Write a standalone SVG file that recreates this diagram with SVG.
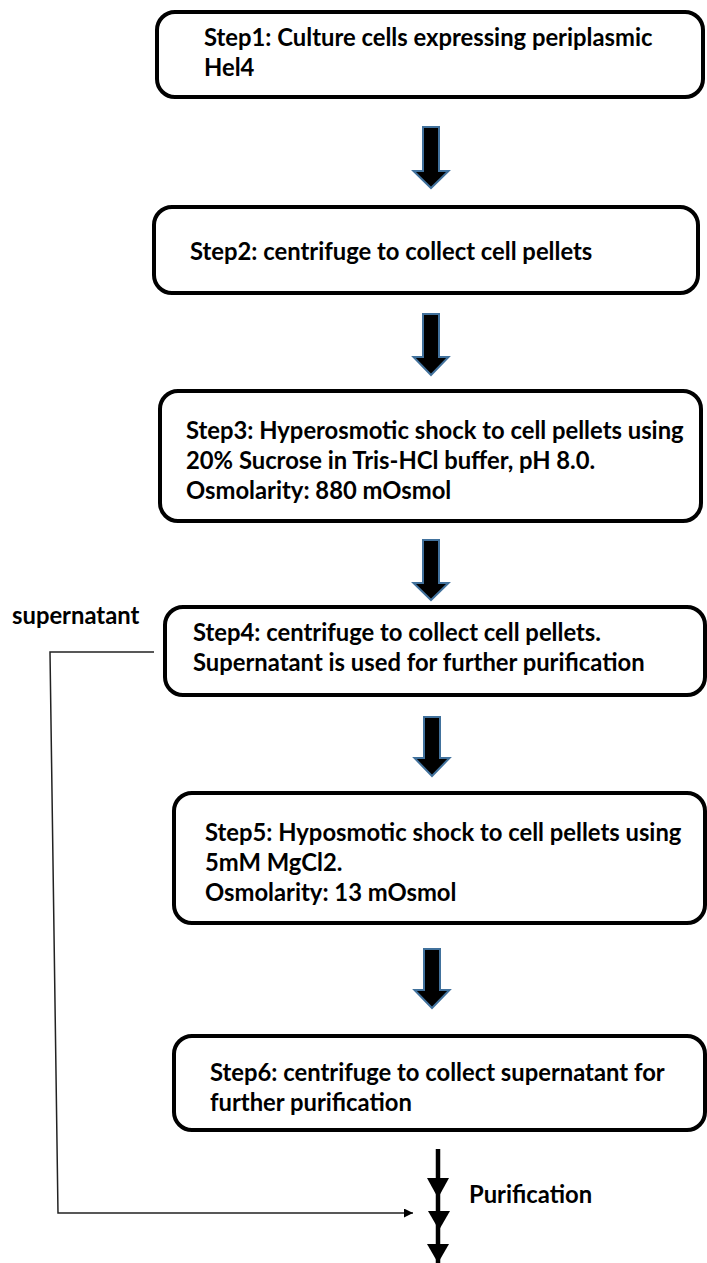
<svg xmlns="http://www.w3.org/2000/svg" width="707" height="1263" viewBox="0 0 707 1263">
  <style>
    .box { fill: #ffffff; stroke: #000000; stroke-width: 4; }
    .lbl { font-family: Lato, "Liberation Sans", sans-serif; font-weight: bold; font-size: 23.8px; fill: #000000; }
    .block { fill: #000000; stroke: #41719C; stroke-width: 2; stroke-linejoin: miter; }
    .thin { fill: none; stroke: #222222; stroke-width: 1.5; }
    .thick { fill: none; stroke: #000000; stroke-width: 4.5; }
    .head { fill: #000000; }
  </style>
  <defs>
    <marker id="tri" viewBox="0 0 10 10" refX="10" refY="5" markerWidth="9" markerHeight="9" markerUnits="userSpaceOnUse" orient="auto">
      <path d="M0,0 L10,5 L0,10 Z" fill="#000000"/>
    </marker>
  </defs>
  <rect width="707" height="1263" fill="#ffffff"/>

  <g id="step1">
    <rect class="box" x="157" y="12" width="546" height="85" rx="18"/>
    <text class="lbl" x="204" y="46">Step1: Culture cells expressing periplasmic</text>
    <text class="lbl" x="204" y="76">Hel4</text>
  </g>

  <g id="step2">
    <rect class="box" x="154" y="207" width="544" height="86" rx="18"/>
    <text class="lbl" x="190" y="260">Step2: centrifuge to collect cell pellets</text>
  </g>

  <g id="step3">
    <rect class="box" x="160" y="391" width="541" height="130" rx="18"/>
    <text class="lbl" x="186" y="439">Step3: Hyperosmotic shock to cell pellets using</text>
    <text class="lbl" x="186" y="469">20% Sucrose in Tris-HCl buffer, pH 8.0.</text>
    <text class="lbl" x="186" y="499">Osmolarity: 880 mOsmol</text>
  </g>

  <g id="step4">
    <rect class="box" x="165" y="607" width="540" height="88" rx="18"/>
    <text class="lbl" x="193" y="641">Step4: centrifuge to collect cell pellets.</text>
    <text class="lbl" x="193" y="671">Supernatant is used for further purification</text>
  </g>

  <g id="step5">
    <rect class="box" x="174" y="793" width="531" height="130" rx="18"/>
    <text class="lbl" x="205" y="841">Step5: Hyposmotic shock to cell pellets using</text>
    <text class="lbl" x="205" y="871">5mM MgCl2.</text>
    <text class="lbl" x="205" y="901">Osmolarity: 13 mOsmol</text>
  </g>

  <g id="step6">
    <rect class="box" x="174" y="1036" width="531" height="94" rx="18"/>
    <text class="lbl" x="210" y="1081">Step6: centrifuge to collect supernatant for</text>
    <text class="lbl" x="210" y="1111">further purification</text>
  </g>

  <g id="supernatant-label">
    <text class="lbl" x="12" y="624">supernatant</text>
  </g>

  <g id="purification-label">
    <text class="lbl" x="469" y="1203">Purification</text>
  </g>

  <g id="connectors">
    <!-- block arrows between steps -->
    <path class="block" d="M423,127 H439 V171 H448.5 L431,188 L413.5,171 H423 Z"/>
    <path class="block" d="M423,314 H439 V357 H448.5 L431,375 L413.5,357 H423 Z"/>
    <path class="block" d="M423,540 H439 V583 H448.5 L431,600 L413.5,583 H423 Z"/>
    <path class="block" d="M424,717 H440 V758 H449.5 L432,776 L414.5,758 H424 Z"/>
    <path class="block" d="M424,949 H440 V990 H449.5 L432,1008 L414.5,990 H424 Z"/>

    <!-- supernatant bypass from step 4 -->
    <path class="thin" d="M154,652 H50 L58,1213 H413" marker-end="url(#tri)"/>

    <!-- final purification stem -->
    <path class="thick" d="M438,1149 V1263"/>
    <polygon class="head" points="427,1178 449,1178 438,1198"/>
    <polygon class="head" points="428,1211 450,1211 439,1230"/>
    <polygon class="head" points="427,1244 449,1244 438,1263"/>
  </g>
</svg>
